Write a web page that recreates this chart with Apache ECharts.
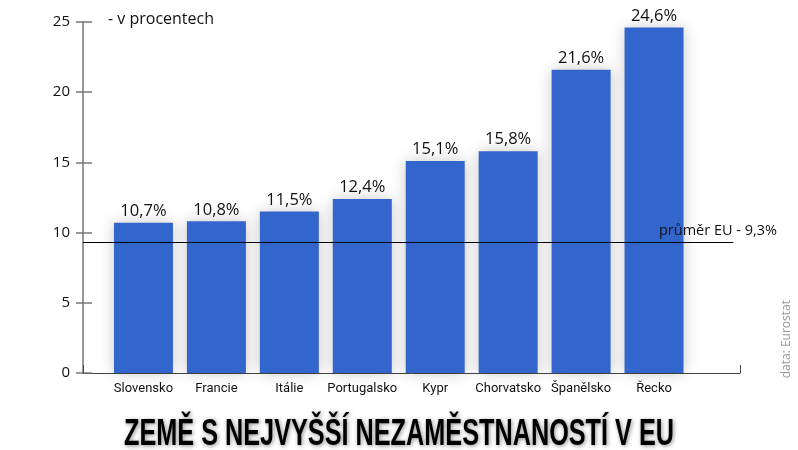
<!DOCTYPE html>
<html>
<head>
<meta charset="utf-8">
<script src="https://cdn.jsdelivr.net/npm/echarts@6/dist/echarts.min.js"></script>
<style>html,body{margin:0;padding:0;background:#fff}#c{width:798px;height:450px}</style>
</head>
<body>
<div id="c"></div>
<script>
const categories = ['Slovensko', 'Francie', 'Itálie', 'Portugalsko', 'Kypr', 'Chorvatsko', 'Španělsko', 'Řecko'];
const values = [10.7, 10.8, 11.5, 12.4, 15.1, 15.8, 21.6, 24.6];
const euAverage = 9.3;
const yTicks = [0, 5, 10, 15, 20, 25];
const titleText = 'ZEMĚ S NEJVYŠŠÍ NEZAMĚSTNANOSTÍ V EU';

const fmt = v => String(v.toFixed(1)).replace('.', ',') + '%';

// fit the condensed title to its width
const titleFont = 'bold 36px "Liberation Sans", sans-serif';
const cv = document.createElement('canvas').getContext('2d');
cv.font = titleFont;
const titleScale = 550 / cv.measureText(titleText).width;

const chart = echarts.init(document.getElementById('c'));
chart.setOption({
  backgroundColor: '#fff',
  animation: false,
  grid: [
    { left: 83, right: 58, top: 22, bottom: 77 },
    { left: 107, right: 107.5, top: 22, bottom: 77 }
  ],
  xAxis: [
    { gridIndex: 0, type: 'value', min: 0, max: 100, interval: 100,
      axisLine: { show: true, lineStyle: { color: '#444', width: 1 } },
      axisTick: { show: true, inside: true, length: 8, lineStyle: { color: '#444' } },
      axisLabel: { show: false }, splitLine: { show: false } },
    { gridIndex: 1, type: 'category', data: categories,
      axisLine: { show: false }, axisTick: { show: false },
      axisLabel: { color: '#111', fontSize: 13, margin: 9, interval: 0,
        fontFamily: '"Liberation Sans Narrow", "Roboto", "Open Sans", sans-serif' } }
  ],
  yAxis: [
    { gridIndex: 0, type: 'value', position: 'left', min: yTicks[0], max: yTicks[yTicks.length - 1], interval: 5,
      axisLine: { show: true, lineStyle: { color: '#777', width: 1.5 } },
      axisTick: { show: true, length: 7, lineStyle: { color: '#777', width: 1.5 } },
      axisLabel: { color: '#111', fontSize: 15, margin: 13, fontFamily: '"Open Sans", sans-serif' },
      splitLine: { show: false } },
    { gridIndex: 0, type: 'value', position: 'left', min: 0, max: 25, interval: 5,
      axisLine: { show: false },
      axisTick: { show: true, inside: true, length: 9, lineStyle: { color: '#777', width: 1.5 } },
      axisLabel: { show: false }, splitLine: { show: false } },
    { gridIndex: 1, type: 'value', min: 0, max: 25, show: false }
  ],
  series: [
    { type: 'bar', xAxisIndex: 1, yAxisIndex: 2, data: values, barWidth: 59,
      itemStyle: { color: '#3366cc', shadowColor: 'rgba(0,0,0,0.22)', shadowBlur: 14 },
      label: { show: true, position: 'top', distance: 3, color: '#111', fontSize: 16.5,
        fontFamily: '"Open Sans", sans-serif', formatter: p => fmt(p.value) } },
    { type: 'line', xAxisIndex: 0, yAxisIndex: 0, data: [], z: 5,
      markLine: { silent: true, symbol: 'none', label: { show: false },
        lineStyle: { color: '#000', width: 1, type: 'solid' },
        data: [[{ coord: [0, euAverage] }, { coord: [99, euAverage] }]] } }
  ],
  graphic: [
    { type: 'text', left: 108, top: 11, z: 10,
      style: { text: '- v procentech', fontSize: 16, fill: '#111', fontFamily: '"Open Sans", sans-serif' } },
    { type: 'text', left: 659, top: 223, z: 10,
      style: { text: 'průměr EU - ' + fmt(euAverage), fontSize: 14.5, fill: '#111', fontFamily: '"Open Sans", sans-serif' } },
    { type: 'text', left: 781, top: 300, z: 10, rotation: Math.PI / 2,
      style: { text: 'data: Eurostat', fontSize: 12, fill: '#999', fontFamily: '"Open Sans", sans-serif' } },
    { type: 'text', x: 399, y: 435, scaleX: titleScale, z: 10,
      style: { x: 0, y: 0, text: titleText, font: titleFont, fill: '#000',
        align: 'center', verticalAlign: 'middle',
        textShadowColor: 'rgba(0,0,0,0.45)', textShadowBlur: 4, textShadowOffsetX: 1, textShadowOffsetY: 1 } }
  ]
});
</script>
</body>
</html>
